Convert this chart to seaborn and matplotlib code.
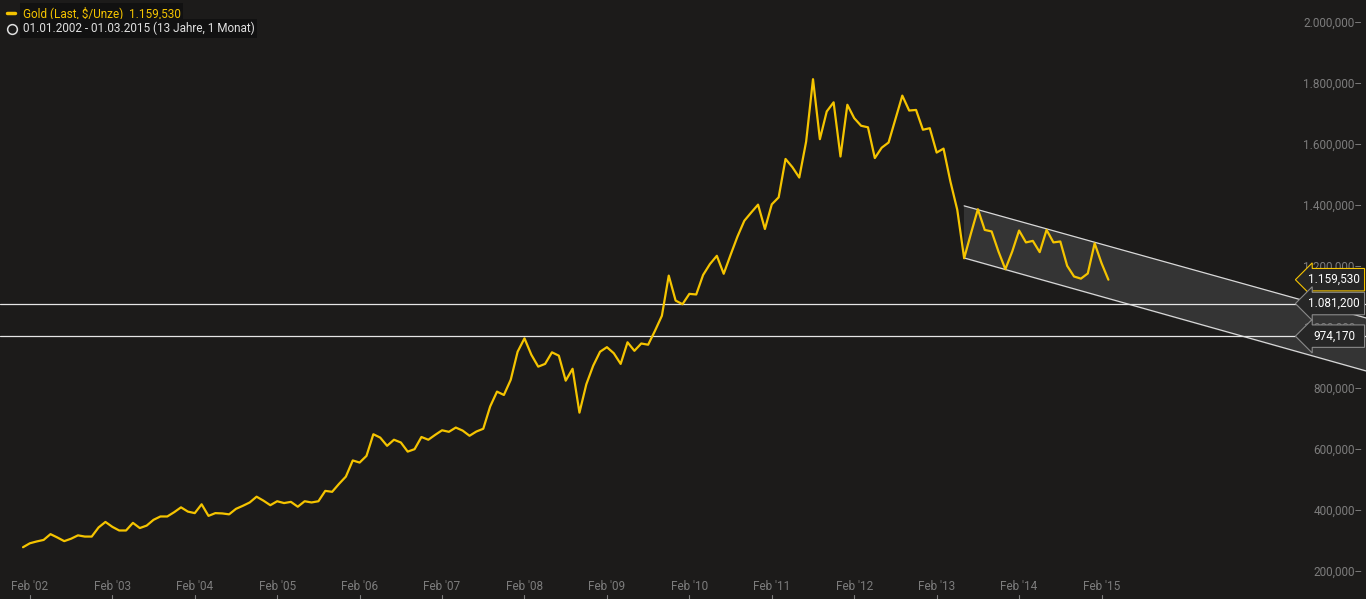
import matplotlib
matplotlib.use('Agg')
import matplotlib.pyplot as plt
import matplotlib.transforms as mtransforms
import seaborn as sns
import pandas as pd
import numpy as np

sns.set_theme(style='dark')
plt.rcParams['font.family'] = ['Roboto', 'DejaVu Sans']

# monthly gold price, Jan 2002 .. Mar 2015
gold = [281, 294, 300, 305, 324, 313, 301, 309, 320, 316, 316, 346,
        364, 348, 336, 336, 361, 344, 352, 371, 382, 382, 396, 412,
        398, 393, 422, 384, 393, 392, 389, 407, 417, 428, 447, 434,
        419, 432, 426, 430, 414, 432, 428, 432, 466, 463, 489, 513,
        566, 559, 581, 652, 641, 614, 634, 625, 595, 603, 643, 634,
        650, 665, 660, 674, 664, 647, 661, 670, 743, 792, 781, 831,
        923, 967, 913, 874, 883, 921, 910, 828, 867, 723, 816, 877,
        923, 938, 918, 883, 954, 926, 950, 946, 992, 1041, 1173, 1091,
        1079, 1113, 1111, 1175, 1211, 1238, 1179, 1241, 1301, 1353, 1380, 1406,
        1326, 1407, 1430, 1556, 1529, 1495, 1613, 1818, 1621, 1712, 1742, 1564,
        1734, 1690, 1665, 1660, 1559, 1593, 1610, 1687, 1764, 1715, 1717, 1652,
        1657, 1577, 1590, 1482, 1389, 1230, 1312, 1391, 1323, 1318, 1252, 1194,
        1252, 1321, 1282, 1287, 1250, 1323, 1282, 1285, 1205, 1170, 1163, 1180,
        1279, 1214, 1159.53]
month_idx = np.arange(len(gold))  # 0 = Jan 2002

x_tick_idx = [1 + 12 * k for k in range(14)]
x_tick_labels = ["Feb '%02d" % (2 + k) for k in range(14)]
y_ticks = [200, 400, 600, 800, 1000, 1200, 1400, 1600, 1800, 2000]

h_levels = [1081.2, 974.17]
channel_x = [137, 195.5]
channel_upper = [1402, 1034]
channel_lower = [1231, 860]


def de_fmt(v):
    s = '{:,.3f}'.format(v)
    return s.replace(',', 'X').replace('.', ',').replace('X', '.')


bg = '#1c1b1a'
gold_c = '#f5c400'
grey = '#7c7c7c'

fig = plt.figure(figsize=(13.66, 5.99), dpi=100, facecolor=bg)
ax = fig.add_axes([0, 0, 1, 1], facecolor=bg)
ax.set_xlim(-3.35, 195.5)
ax.set_ylim(111, 2078)
ax.set_xticks([])
ax.set_yticks([])
for s in ax.spines.values():
    s.set_visible(False)
ax.grid(False)

# channel
ax.fill_between(channel_x, channel_lower, channel_upper, color='#343434', zorder=1)
ax.plot(channel_x, channel_upper, color='#d8d8d8', lw=0.9, zorder=2)
ax.plot(channel_x, channel_lower, color='#d8d8d8', lw=0.9, zorder=2)

for lv in h_levels:
    ax.axhline(lv, color='#e6e6e6', lw=0.9, zorder=2)

df = pd.DataFrame({'m': month_idx, 'v': gold})
sns.lineplot(data=df, x='m', y='v', ax=ax, color=gold_c, lw=1.6, zorder=3)
ax.set_xlabel('')
ax.set_ylabel('')

# right y labels
ytr = mtransforms.blended_transform_factory(ax.transAxes, ax.transData)
for t in y_ticks:
    ax.text(0.9975, t, de_fmt(t) + '–', transform=ytr, ha='right', va='center',
            color=grey, fontsize=8.5, zorder=4)

# bottom x labels
xtr = mtransforms.blended_transform_factory(ax.transData, ax.transAxes)
for i, lab in zip(x_tick_idx, x_tick_labels):
    ax.text(i, 0.021, lab, transform=xtr, ha='center', va='center', color=grey, fontsize=8.5)
    ax.plot([i, i], [0, 0.006], transform=xtr, color=grey, lw=0.8)

# price tags, all the same width
tags = [(gold[-1], gold_c), (h_levels[0], '#8a8a8a'), (h_levels[1], '#8a8a8a')]
for val, ec in tags:
    ax.text(0.9765, val, de_fmt(val), transform=ytr, ha='center', va='center',
            color='white', fontsize=8.5, zorder=7)
    ax.text(0.9765, val, '1.159,530', transform=ytr, ha='center', va='center',
            color='none', fontsize=8.5, zorder=6,
            bbox=dict(boxstyle='larrow,pad=0.4', fc='#262626', ec=ec, lw=0.8))

# header
fig.text(0.0165, 0.979, 'Gold (Last, $/Unze)  ' + de_fmt(gold[-1]), color=gold_c, fontsize=8.5,
         va='center', bbox=dict(boxstyle='square,pad=0.25', fc='#111111', ec='none'))
fig.text(0.0165, 0.952, '01.01.2002 - 01.03.2015 (13 Jahre, 1 Monat)', color='#e0e0e0',
         fontsize=8.5, va='center', bbox=dict(boxstyle='square,pad=0.25', fc='#111111', ec='none'))
fig.add_artist(plt.Line2D([0.005, 0.011], [0.979, 0.979], color=gold_c, lw=2.5))
fig.add_artist(plt.Line2D([0.0085], [0.952], marker='o', ms=7, mfc='none', mec='#e0e0e0', mew=1.1))

fig.savefig('out.png', dpi=100, facecolor=bg)
